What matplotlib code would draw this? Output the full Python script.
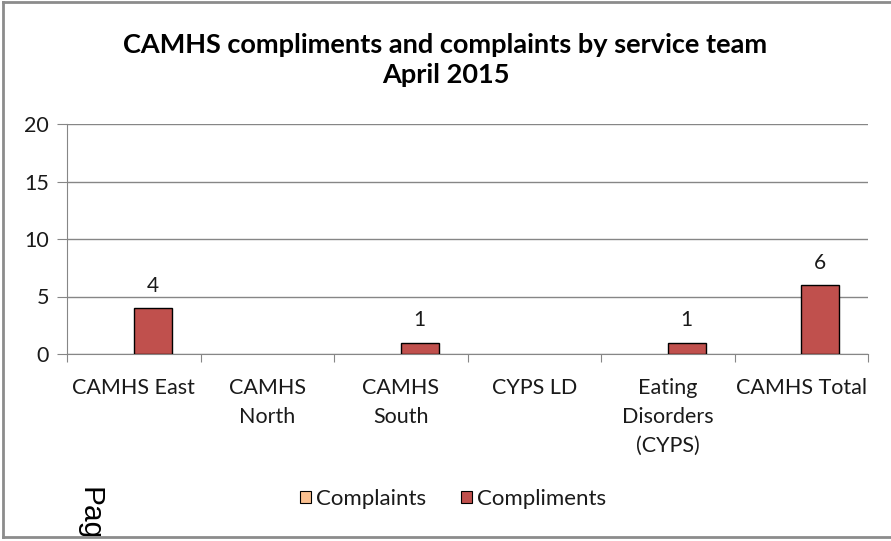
import matplotlib
matplotlib.use("Agg")
import matplotlib.pyplot as plt
import numpy as np
from matplotlib.patches import Rectangle
from matplotlib.lines import Line2D

categories = ["CAMHS East", "CAMHS North", "CAMHS South", "CYPS LD", "Eating Disorders (CYPS)", "CAMHS Total"]
tick_labels = ["CAMHS East", "CAMHS\nNorth", "CAMHS\nSouth", "CYPS LD", "Eating\nDisorders\n(CYPS)", "CAMHS Total"]
complaints = [0, 0, 0, 0, 0, 0]
compliments = [4, 0, 1, 0, 1, 6]
yticks = [0, 5, 10, 15, 20]

W, H = 891, 541
fig = plt.figure(figsize=(W / 100, H / 100), dpi=100)
font = "Lato"
tc = "#1a1a1a"

# axes area in pixels: x 67..868, y 124..354 (from top)
left, right, top, bottom = 67, 868, 124, 354
ax = fig.add_axes([left / W, 1 - bottom / H, (right - left) / W, (bottom - top) / H])

n = len(categories)
x = np.arange(n)
bw = 0.285
c_comp = "#FAC090"
c_compl = "#C0504D"
ax.bar(x - bw / 2, complaints, width=bw, color=c_comp, edgecolor="black",
       linewidth=[1.0 if v else 0 for v in complaints], zorder=3)
ax.bar(x + bw / 2, compliments, width=bw, color=c_compl, edgecolor="black",
       linewidth=[1.0 if v else 0 for v in compliments], zorder=3)
for xi, v in zip(x, compliments):
    if v:
        ax.text(xi + bw / 2, v + 1.05, str(v), ha="center", va="bottom", fontsize=15, family=font, color=tc)

ax.set_xlim(-0.5, n - 0.5)
ax.set_ylim(0, 20)
ax.set_yticks(yticks)
ax.set_yticklabels([str(t) for t in yticks], fontsize=15.5, family=font, color=tc)
ax.yaxis.grid(True, color="#868686", linewidth=1.0)
ax.set_axisbelow(True)
for s in ["top", "right"]:
    ax.spines[s].set_visible(False)
ax.spines["left"].set_color("#868686")
ax.spines["bottom"].set_color("#868686")
ax.tick_params(axis="y", length=7, color="#868686", pad=6)
ax.set_xticks(np.arange(-0.5, n, 1.0))
ax.set_xticklabels([])
ax.tick_params(axis="x", length=6, color="#868686")
for xi, lab in zip(x, tick_labels):
    ax.text(xi, -2.1, lab, ha="center", va="top", fontsize=15.5, family=font, color=tc,
            linespacing=1.55, transform=ax.transData)

fig.text(0.5, 1 - 45 / H, "CAMHS compliments and complaints by service team", ha="center", va="center",
         fontsize=19.5, fontweight="bold", family=font, color="black")
fig.text(0.5, 1 - 75 / H, "April 2015", ha="center", va="center",
         fontsize=19.5, fontweight="bold", family=font, color="black")

handles = [Rectangle((0, 0), 1, 1, facecolor=c_comp, edgecolor="black", linewidth=0.8),
           Rectangle((0, 0), 1, 1, facecolor=c_compl, edgecolor="black", linewidth=0.8)]
leg = fig.legend(handles, ["Complaints", "Compliments"], loc="center", bbox_to_anchor=(453 / W, 1 - 499 / H),
                 ncol=2, frameon=False, prop={"family": font, "size": 16}, handlelength=0.5, handleheight=0.5,
                 handletextpad=0.2, columnspacing=1.6)
for t in leg.get_texts():
    t.set_color(tc)

# figure border (left, top, bottom)
bc = "#8c8c8c"
fig.add_artist(Line2D([3 / W, 3 / W], [1 - 2 / H, 1 - 537 / H], color=bc, linewidth=2, transform=fig.transFigure))
fig.add_artist(Line2D([3 / W, 1], [1 - 2 / H, 1 - 2 / H], color=bc, linewidth=2, transform=fig.transFigure, zorder=10))
fig.add_artist(Line2D([3 / W, 1], [1 - 537 / H, 1 - 537 / H], color=bc, linewidth=2, transform=fig.transFigure, zorder=10))

fig.text(90 / W, 1 - 487 / H, "Pag", rotation=270, ha="center", va="top", fontsize=21.5,
         family="Liberation Sans", color="black", zorder=1)

fig.savefig("out.png", dpi=100)
